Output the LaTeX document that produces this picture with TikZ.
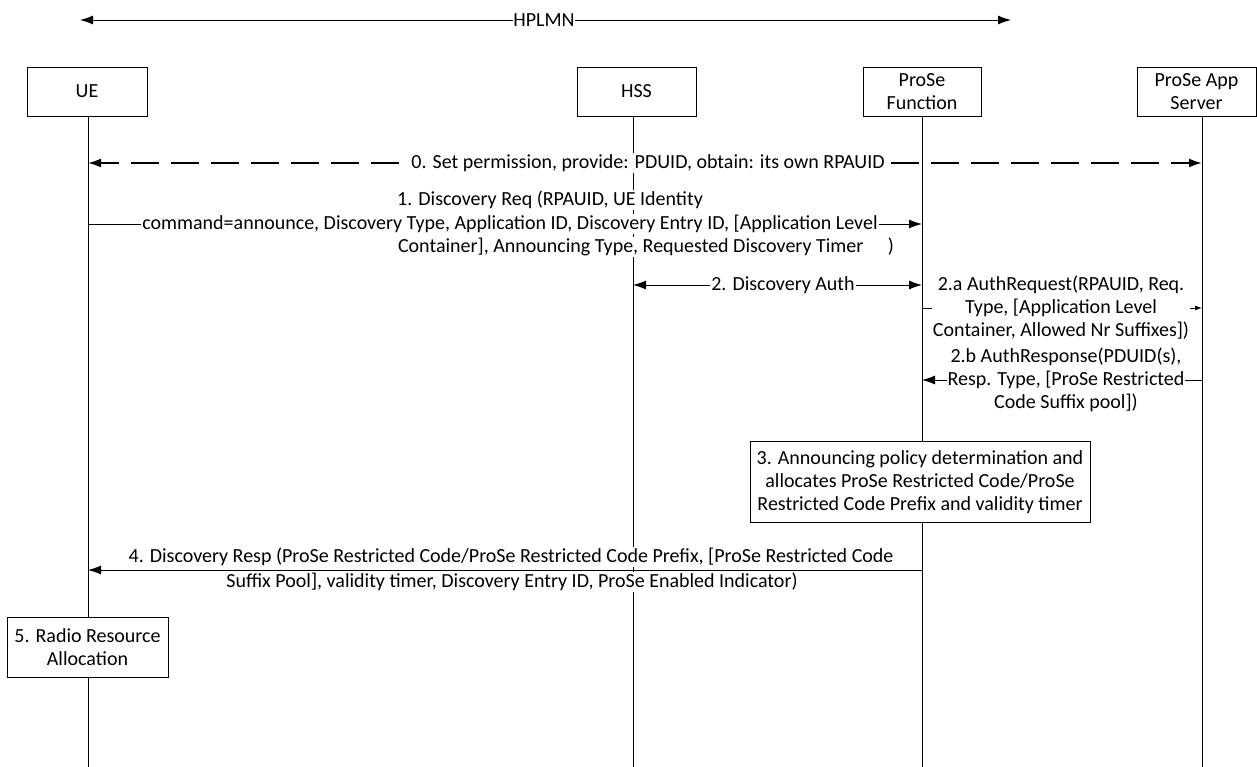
\documentclass[tikz,border=0pt]{standalone}
\usepackage{fontspec}
\setmainfont{Carlito}
\usetikzlibrary{arrows.meta}
\begin{document}
\begin{tikzpicture}[x=1pt,y=-1pt,
  font=\fontsize{20}{23}\selectfont,
  hdr/.style={draw,line width=0.9pt,fill=white,align=center,inner sep=0pt},
  lbl/.style={fill=white,inner sep=1pt,align=center},
  msg/.style={line width=0.9pt,-{Latex[length=13pt,width=9pt]}},
  dmsg/.style={line width=0.9pt,{Latex[length=13pt,width=9pt]}-{Latex[length=13pt,width=9pt]}},
  life/.style={line width=0.9pt}]
\useasboundingbox (0,0) rectangle (1257,767);
% lifelines
\coordinate (ueTop) at (88,116);  \coordinate (ueBot) at (88,767);
\coordinate (hsTop) at (633,116); \coordinate (hsBot) at (633,767);
\coordinate (pfTop) at (922,116); \coordinate (pfBot) at (922,767);
\coordinate (asTop) at (1202,116);\coordinate (asBot) at (1202,767);
\draw[life] (ueTop) -- (ueBot);
\draw[life] (hsTop) -- (hsBot);
\draw[life] (pfTop) -- (pfBot);
\draw[life] (asTop) -- (asBot);
% HPLMN
\coordinate (hpL) at (80,20); \coordinate (hpR) at (1011,20);
\draw[dmsg] (hpL) -- (hpR);
\node[lbl,inner sep=0pt] (hplmn) at (544,20) {HPLMN};
% headers
\node[hdr,minimum width=120pt,minimum height=49pt] (ue) at (87,91.5) {UE};
\node[hdr,minimum width=119pt,minimum height=49pt] (hss) at (636.5,91.5) {HSS};
\node[hdr,minimum width=118pt,minimum height=49pt] (pf) at (922,91.5) {ProSe\\Function};
\node[hdr,minimum width=119pt,minimum height=49pt] (as) at (1196.5,91.5) {ProSe App\\Server};
% message 0
\coordinate (ue0) at (88,163); \coordinate (as0) at (1202,163);
\draw[dmsg,line width=2pt,dash pattern=on 28pt off 12pt,dash phase=9pt] (ue0) -- (as0);
\node[lbl] (m0) at (648,163) {0. Set permission, provide: PDUID, obtain: its own RPAUID};
% message 1
\coordinate (ue1) at (88,224); \coordinate (pf1) at (922,224);
\draw[msg] (ue1) -- (pf1);
\node[lbl] (m1a) at (550,200) {1. Discovery Req (RPAUID, UE Identity};
\node[lbl] (m1b) at (510,224) {command=announce, Discovery Type, Application ID, Discovery Entry ID, [Application Level};
\node[lbl] (m1c) at (646,247) {Container], Announcing Type, Requested Discovery Timer \quad)};
% message 2
\coordinate (hs2) at (633,285); \coordinate (pf2) at (922,285);
\draw[dmsg] (hs2) -- (pf2);
\node[lbl] (m2) at (783,285) {2. Discovery Auth};
% message 2a
\coordinate (pf2a) at (922,308); \coordinate (as2a) at (1202,308);
\draw[line width=0.9pt,-{Latex[length=7pt,width=5pt]}] (pf2a) -- (as2a);
\node[lbl] (m2a) at (1061,308) {2.a AuthRequest(RPAUID, Req.\\Type, [Application Level\\Container, Allowed Nr Suffixes])};
% message 2b
\coordinate (as2b) at (1202,380); \coordinate (pf2b) at (922,380);
\draw[msg] (as2b) -- (pf2b);
\node[lbl] (m2b) at (1066,380) {2.b AuthResponse(PDUID(s),\\Resp. Type, [ProSe Restricted\\Code Suffix pool])};
% step 3
\node[hdr,minimum width=340pt,minimum height=81pt] (s3) at (920,482) {3. Announcing policy determination and\\allocates ProSe Restricted Code/ProSe\\Restricted Code Prefix and validity timer};
% message 4
\coordinate (pf4) at (922,570); \coordinate (ue4) at (88,570);
\draw[msg] (pf4) -- (ue4);
\node[lbl] (m4a) at (511,557) {4. Discovery Resp (ProSe Restricted Code/ProSe Restricted Code Prefix, [ProSe Restricted Code};
\node[lbl] (m4b) at (512,582) {Suffix Pool], validity timer, Discovery Entry ID, ProSe Enabled Indicator)};
% step 5
\node[hdr,minimum width=161pt,minimum height=60pt] (s5) at (87.5,647) {5. Radio Resource\\Allocation};
\end{tikzpicture}
\end{document}
